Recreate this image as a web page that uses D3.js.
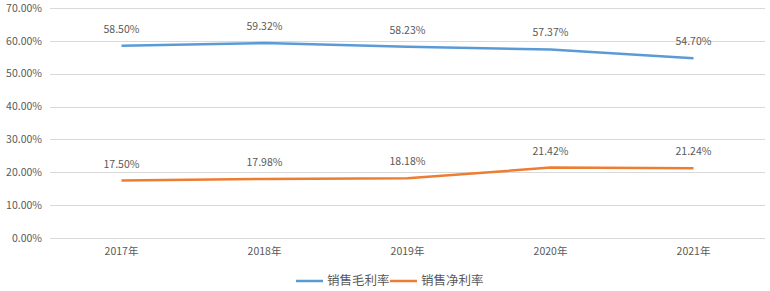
<!DOCTYPE html>
<html>
<head>
<meta charset="utf-8">
<title>销售毛利率 / 销售净利率</title>
<style>
  body { margin: 0; background: #fff; }
  text { font-family: "Noto Sans CJK SC", "Noto Sans", sans-serif; fill: #595959; }
</style>
</head>
<body>
<svg width="770" height="291"></svg>
<script src="https://d3js.org/d3.v7.min.js"></script>
<script>
  // data
  var years = ['2017年', '2018年', '2019年', '2020年', '2021年'];
  var grossMargin = [58.50, 59.32, 58.23, 57.37, 54.70];
  var netMargin = [17.50, 17.98, 18.18, 21.42, 21.24];
  var seriesNames = ['销售毛利率', '销售净利率'];
  var colors = ['#5B9BD5', '#ED7D31'];
  var yTicks = [0, 10, 20, 30, 40, 50, 60, 70];

  var margin = {left: 50, right: 5, top: 8, bottom: 53};
  var width = 770, height = 291;

  var svg = d3.select('svg');

  var x = d3.scaleBand()
    .domain(years)
    .range([margin.left, width - margin.right]);

  var y = d3.scaleLinear()
    .domain([0, 70])
    .range([height - margin.bottom, margin.top]);

  // gridlines
  svg.append('g')
    .selectAll('line')
    .data(yTicks)
    .enter()
    .append('line')
    .attr('x1', margin.left)
    .attr('x2', width - margin.right)
    .attr('y1', function(d) { return Math.round(y(d)) + 0.5; })
    .attr('y2', function(d) { return Math.round(y(d)) + 0.5; })
    .attr('stroke', '#D9D9D9')
    .attr('stroke-width', 1);

  // y axis labels
  svg.append('g')
    .selectAll('text')
    .data(yTicks)
    .enter()
    .append('text')
    .attr('x', 42)
    .attr('y', function(d) { return y(d); })
    .attr('dy', '0.35em')
    .attr('text-anchor', 'end')
    .style('font-size', '10.5px')
    .text(function(d) { return d.toFixed(2) + '%'; });

  // x axis labels
  svg.append('g')
    .selectAll('text')
    .data(years)
    .enter()
    .append('text')
    .attr('x', function(d) { return x(d) + x.bandwidth() / 2; })
    .attr('y', 255)
    .attr('text-anchor', 'middle')
    .style('font-size', '10.5px')
    .text(function(d) { return d; });

  var line = d3.line()
    .x(function(d, i) { return x(years[i]) + x.bandwidth() / 2; })
    .y(function(d) { return y(d); });

  [grossMargin, netMargin].forEach(function(series, k) {
    svg.append('path')
      .datum(series)
      .attr('d', line)
      .attr('fill', 'none')
      .attr('stroke', colors[k])
      .attr('stroke-width', 2.5)
      .attr('stroke-linejoin', 'round');

    svg.append('g')
      .selectAll('text')
      .data(series)
      .enter()
      .append('text')
      .attr('x', function(d, i) { return x(years[i]) + x.bandwidth() / 2; })
      .attr('y', function(d) { return y(d) - 13; })
      .attr('text-anchor', 'middle')
      .style('font-size', '10.5px')
      .text(function(d) { return d.toFixed(2) + '%'; });
  });

  // legend
  var legendX = [296, 390];
  var legend = svg.append('g')
    .selectAll('g')
    .data(seriesNames)
    .enter()
    .append('g')
    .attr('transform', function(d, i) { return 'translate(' + legendX[i] + ',281)'; });

  legend.append('line')
    .attr('x1', 0)
    .attr('x2', 27)
    .attr('stroke', function(d, i) { return colors[i]; })
    .attr('stroke-width', 2.5);

  legend.append('text')
    .attr('x', 31)
    .attr('dy', '0.35em')
    .style('font-size', '12.5px')
    .text(function(d) { return d; });
</script>
</body>
</html>
